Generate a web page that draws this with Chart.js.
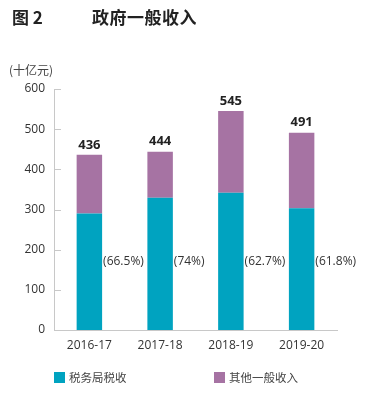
<!DOCTYPE html>
<html>
<head>
<meta charset="utf-8">
<script src="https://cdn.jsdelivr.net/npm/chart.js@4"></script>
<style>
  html, body { margin: 0; padding: 0; background: #fff; }
  #wrap { position: relative; width: 366px; height: 400px; font-family: "Open Sans", "Noto Sans CJK SC", sans-serif; color: #333; }
  #chart { position: absolute; left: 0; top: 0; }
  .fig { position: absolute; top: 4px; left: 12px; font-size: 17px; font-weight: bold; color: #222; font-family: "Noto Sans CJK SC", sans-serif; }
  .title { position: absolute; top: 4px; left: 92px; font-size: 17px; font-weight: bold; color: #222; font-family: "Noto Sans CJK SC", sans-serif; letter-spacing: 0.5px; }
  .unit { position: absolute; top: 61px; left: 9px; font-size: 12px; color: #444; font-family: "Noto Sans CJK SC", sans-serif; }
  .legend { position: absolute; top: 369px; font-size: 11.5px; color: #444; font-family: "Noto Sans CJK SC", sans-serif; display: flex; align-items: center; }
  .legend i { display: inline-block; width: 11px; height: 11px; margin-right: 4px; }
</style>
</head>
<body>
<div id="wrap">
  <canvas id="chart" width="366" height="400"></canvas>
  <div class="fig">图 2</div>
  <div class="title">政府一般收入</div>
  <div class="unit">(十亿元)</div>
  <div class="legend" style="left:54px"><i style="background:#00a3c0"></i>税务局税收</div>
  <div class="legend" style="left:214px"><i style="background:#a673a3"></i>其他一般收入</div>
</div>
<script>
const YEARS = ["2016-17", "2017-18", "2018-19", "2019-20"];
const TAX = [290, 329, 342, 303];
const OTHER = [146, 115, 203, 188];
const TOTALS = [436, 444, 545, 491];
const SHARES = ["(66.5%)", "(74%)", "(62.7%)", "(61.8%)"];
const SHARE_LABEL_Y = 170;

const labelPlugin = {
  id: "labels",
  afterDatasetsDraw(chart) {
    const ctx = chart.ctx;
    const y = chart.scales.y;
    // short inward ticks on the y axis
    ctx.save();
    ctx.strokeStyle = "#c8c8c8";
    ctx.lineWidth = 1;
    y.ticks.forEach(t => {
      if (t.value === 0) return;
      const py = Math.round(y.getPixelForValue(t.value)) + 0.5;
      ctx.beginPath();
      ctx.moveTo(chart.chartArea.left, py);
      ctx.lineTo(chart.chartArea.left + 7, py);
      ctx.stroke();
    });
    const bars = chart.getDatasetMeta(0).data;
    ctx.textBaseline = "middle";
    bars.forEach((bar, i) => {
      ctx.fillStyle = "#222";
      ctx.font = "bold 13px 'Open Sans'";
      ctx.textAlign = "center";
      ctx.fillText(TOTALS[i], bar.x, y.getPixelForValue(TOTALS[i]) - 10);
      ctx.fillStyle = "#333";
      ctx.font = "12px 'Open Sans'";
      ctx.textAlign = "left";
      ctx.fillText(SHARES[i], bar.x + bar.width / 2 + 1, y.getPixelForValue(SHARE_LABEL_Y));
    });
    ctx.restore();
  }
};

new Chart(document.getElementById("chart"), {
  type: "bar",
  data: {
    labels: YEARS,
    datasets: [
      { label: "税务局税收", data: TAX, backgroundColor: "#00a3c0" },
      { label: "其他一般收入", data: OTHER, backgroundColor: "#a673a3" },
    ],
  },
  options: {
    responsive: false,
    animation: false,
    layout: { padding: { top: 89, right: 29, bottom: 38, left: 0 } },
    datasets: { bar: { barPercentage: 0.36, categoryPercentage: 1 } },
    plugins: { legend: { display: false }, tooltip: { enabled: false } },
    scales: {
      x: {
        stacked: true,
        grid: { display: false, drawTicks: false },
        border: { display: true, color: "#c8c8c8" },
        ticks: { color: "#333", font: { family: "Open Sans", size: 12 }, padding: 8 },
        afterFit(s) { s.height = 32; },
      },
      y: {
        stacked: true,
        min: 0, max: 600,
        grid: { display: false, drawTicks: false },
        border: { display: true, color: "#c8c8c8" },
        ticks: { stepSize: 100, color: "#333", font: { family: "Open Sans", size: 12 }, padding: 9 },
        afterFit(s) { s.width = 54; },
      },
    },
  },
  plugins: [labelPlugin],
});
</script>
</body>
</html>
